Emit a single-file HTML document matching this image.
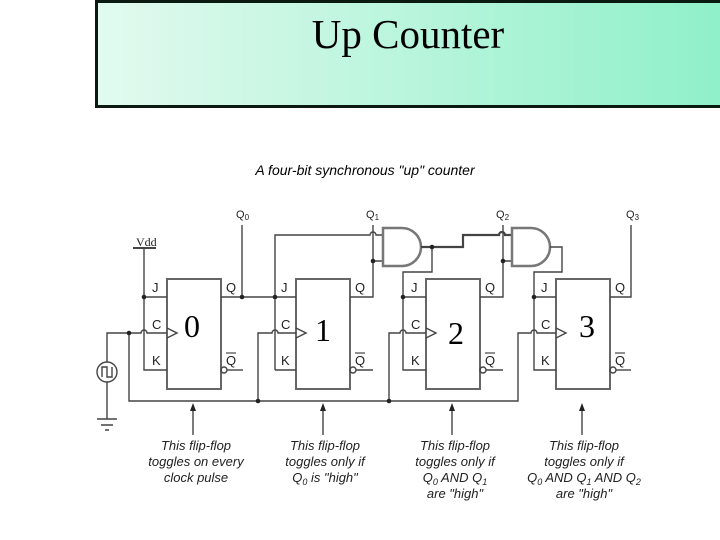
<!DOCTYPE html>
<html><head><meta charset="utf-8"><style>
html,body{margin:0;padding:0;background:#fff;width:720px;height:540px;overflow:hidden}
</style></head><body>
<svg width="720" height="540" xmlns="http://www.w3.org/2000/svg">
<defs>
<linearGradient id="g" x1="0" x2="1" y1="0" y2="0"><stop offset="0" stop-color="#e2faef"/><stop offset="1" stop-color="#8ff0c9"/></linearGradient>
</defs>
<rect x="96.5" y="1.5" width="626" height="105" fill="url(#g)" stroke="#0a1a10" stroke-width="3"/>
<text x="408" y="48" font-family="Liberation Serif" font-size="41" text-anchor="middle">Up Counter</text>
<text x="365" y="175" font-family="Liberation Sans" font-style="italic" font-size="14" text-anchor="middle">A four-bit synchronous "up" counter</text>

<g fill="none" stroke="#444" stroke-width="1.4">
<g stroke="#666" stroke-width="2">
<rect x="167" y="279" width="54" height="110"/>
<rect x="296" y="279" width="54" height="110"/>
<rect x="426" y="279" width="54" height="110"/>
<rect x="556" y="279" width="54" height="110"/>
</g>
<path d="M167,328 L177,333 L167,338"/>
<path d="M296,328 L306,333 L296,338"/>
<path d="M426,328 L436,333 L426,338"/>
<path d="M556,328 L566,333 L556,338"/>
<path d="M133,248 H156" stroke-width="2"/>
<path d="M144,248 V370 H167 M144,297 H167"/>
<circle cx="107" cy="372" r="10"/>
<path d="M102,377 V367 H107 V377 H112 V367"/>
<path d="M107,362 V333 H141 A3,3 0 0 1 147,333 H167"/>
<path d="M107,382 V419 M97,419 H117 M101,425 H113 M105,430 H109"/>
<path d="M129,333 V401 H518 V333 H531 A3,3 0 0 1 537,333 H556"/>
<path d="M258,401 V333 H272 A3,3 0 0 1 278,333 H296"/>
<path d="M389,401 V333 H400 A3,3 0 0 1 406,333 H426"/>
<path d="M221,297 H296 M242,297 V225"/>
<path d="M275,370 H296 M275,370 V235 H370 A3,3 0 0 1 376,235 H383"/>
<path d="M350,297 H373 V225 M373,261 H383"/>
<path d="M383,228 H402 A19,19 0 0 1 402,266 H383 Z" stroke="#777" stroke-width="2.5"/>
<path d="M421,247 H463 V235 H499 A3,3 0 0 1 505,235 H512" stroke-width="2.2"/>
<path d="M432,247 V272 H403 V370 H426 M403,297 H426"/>
<path d="M480,297 H503 V225 M503,261 H512"/>
<path d="M512,228 H531 A19,19 0 0 1 531,266 H512 Z" stroke="#777" stroke-width="2.5"/>
<path d="M550,247 H562 V272 H534 V370 H556 M534,297 H556"/>
<path d="M610,297 H631 V225"/>
<circle cx="224" cy="370" r="3"/><path d="M227,370 H243"/>
<circle cx="353" cy="370" r="3"/><path d="M356,370 H373"/>
<circle cx="483" cy="370" r="3"/><path d="M486,370 H503"/>
<circle cx="613" cy="370" r="3"/><path d="M616,370 H631"/>
<path d="M193,435 V408 M323,435 V408 M452,435 V408 M582,435 V408"/>
</g>
<g fill="#222">
<path d="M193,403 l-3,8 h6z M323,403 l-3,8 h6z M452,403 l-3,8 h6z M582,403 l-3,8 h6z"/>
<circle cx="144" cy="297" r="2.3"/><circle cx="129" cy="333" r="2.3"/>
<circle cx="242" cy="297" r="2.3"/><circle cx="275" cy="297" r="2.3"/>
<circle cx="258" cy="401" r="2.3"/><circle cx="389" cy="401" r="2.3"/>
<circle cx="373" cy="261" r="2.3"/><circle cx="432" cy="247" r="2.3"/>
<circle cx="403" cy="297" r="2.3"/><circle cx="503" cy="261" r="2.3"/>
<circle cx="534" cy="297" r="2.3"/>
</g>
<g font-family="Liberation Sans" font-size="13" fill="#222">
<text x="136" y="246" font-family="Liberation Serif" font-size="12">Vdd</text>
<text x="152" y="292">J</text><text x="152" y="329">C</text><text x="152" y="365">K</text>
<text x="281" y="292">J</text><text x="281" y="329">C</text><text x="281" y="365">K</text>
<text x="411" y="292">J</text><text x="411" y="329">C</text><text x="411" y="365">K</text>
<text x="541" y="292">J</text><text x="541" y="329">C</text><text x="541" y="365">K</text>
<text x="226" y="292">Q</text><text x="355" y="292">Q</text><text x="485" y="292">Q</text><text x="615" y="292">Q</text>
<text x="226" y="365">Q</text><text x="355" y="365">Q</text><text x="485" y="365">Q</text><text x="615" y="365">Q</text>
</g>
<g stroke="#222" stroke-width="1">
<path d="M226,353 H236 M355,353 H365 M485,353 H495 M615,353 H625"/>
</g>
<g font-family="Liberation Sans" font-size="11" fill="#222">
<text x="236" y="218">Q<tspan font-size="8" dy="2">0</tspan></text>
<text x="366" y="218">Q<tspan font-size="8" dy="2">1</tspan></text>
<text x="496" y="218">Q<tspan font-size="8" dy="2">2</tspan></text>
<text x="626" y="218">Q<tspan font-size="8" dy="2">3</tspan></text>
</g>
<g font-family="Liberation Serif" font-size="32" fill="#000" text-anchor="middle">
<text x="192" y="337">0</text><text x="323" y="341">1</text><text x="456" y="344">2</text><text x="587" y="337">3</text>
</g>
<g font-family="Liberation Sans" font-style="italic" font-size="13" fill="#222" text-anchor="middle">
<text x="196" y="450">This flip-flop</text><text x="196" y="466">toggles on every</text><text x="196" y="482">clock pulse</text>
<text x="325" y="450">This flip-flop</text><text x="325" y="466">toggles only if</text><text x="325" y="482">Q<tspan font-size="9" dy="3">0</tspan><tspan dy="-3"> is "high"</tspan></text>
<text x="455" y="450">This flip-flop</text><text x="455" y="466">toggles only if</text><text x="455" y="482">Q<tspan font-size="9" dy="3">0</tspan><tspan dy="-3"> AND Q</tspan><tspan font-size="9" dy="3">1</tspan></text><text x="455" y="498">are "high"</text>
<text x="584" y="450">This flip-flop</text><text x="584" y="466">toggles only if</text><text x="584" y="482">Q<tspan font-size="9" dy="3">0</tspan><tspan dy="-3"> AND Q</tspan><tspan font-size="9" dy="3">1</tspan><tspan dy="-3"> AND Q</tspan><tspan font-size="9" dy="3">2</tspan></text><text x="584" y="498">are "high"</text>
</g>
</svg>
</body></html>
